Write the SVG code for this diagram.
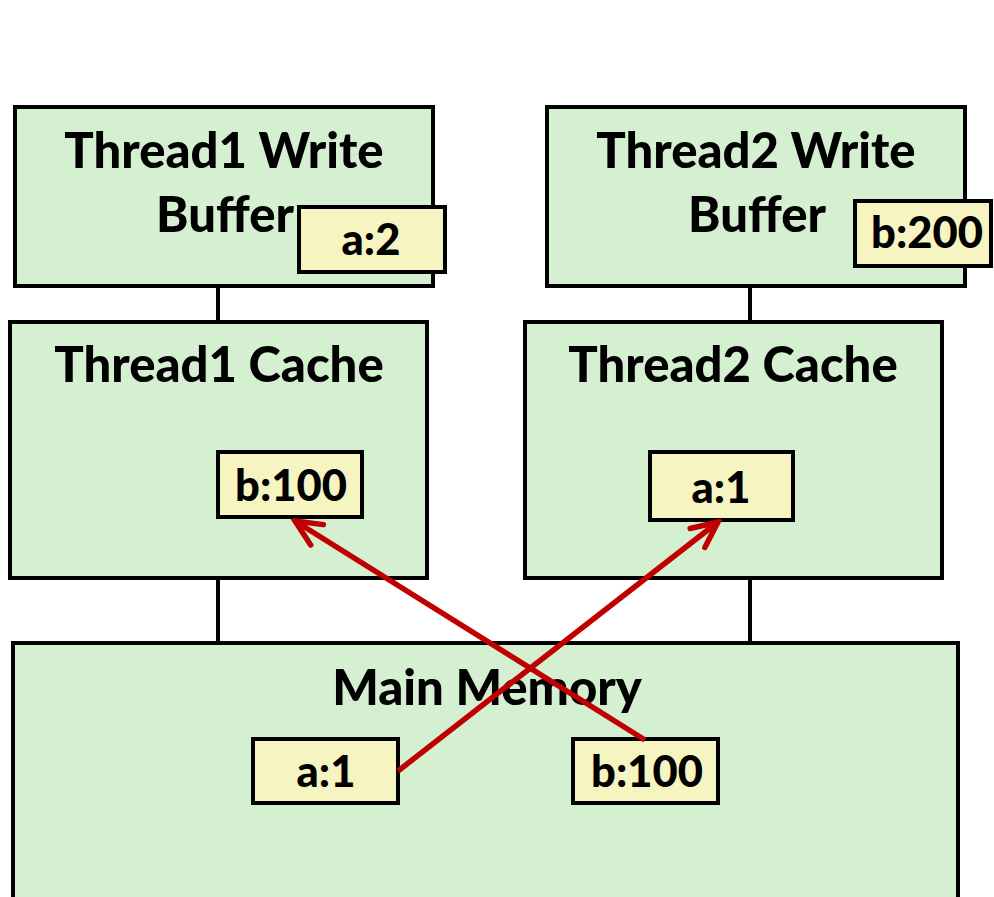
<svg xmlns="http://www.w3.org/2000/svg" width="994" height="897" viewBox="0 0 994 897">
<style>
.box{fill:#D5F0D0;stroke:#000;stroke-width:4}
.val{fill:#F6F5C1;stroke:#000;stroke-width:4}
.t{font-family:Lato,"Open Sans","Liberation Sans",sans-serif;font-weight:900;font-size:49px;fill:#000;text-anchor:middle}
.v{font-family:Lato,"Open Sans","Liberation Sans",sans-serif;font-weight:900;font-size:43.5px;fill:#000;text-anchor:middle}
.link{stroke:#000;stroke-width:4;fill:none}
.arrow{stroke:#C00000;stroke-width:5.5;fill:none}
</style>
<defs>
<marker id="ah" markerUnits="userSpaceOnUse" viewBox="-32 -16 36 32" refX="0" refY="0" markerWidth="36" markerHeight="32" orient="auto">
<path d="M -26 -12 L 0 0 L -26 12" fill="none" stroke="#C00000" stroke-width="5.5" stroke-linecap="round" stroke-linejoin="miter"/>
</marker>
</defs>
<rect width="994" height="897" fill="#fff"/>
<g id="connectors">
<line class="link" x1="218" y1="286" x2="218" y2="322"/>
<line class="link" x1="750" y1="286" x2="750" y2="322"/>
<line class="link" x1="218" y1="578" x2="218" y2="643"/>
<line class="link" x1="750" y1="578" x2="750" y2="643"/>
</g>
<g id="t1wb">
<rect class="box" x="15" y="107" width="418" height="179"/>
<text class="t" x="224" y="168">Thread1 Write</text>
<text class="t" x="225" y="232">Buffer</text>
<rect class="val" x="299" y="207" width="146" height="65"/>
<text class="v" x="371" y="255">a:2</text>
</g>
<g id="t2wb">
<rect class="box" x="547" y="107" width="418" height="179"/>
<text class="t" x="756" y="168">Thread2 Write</text>
<text class="t" x="757" y="232">Buffer</text>
<rect class="val" x="855" y="201" width="136" height="65"/>
<text class="v" x="927" y="248">b:200</text>
</g>
<g id="t1c">
<rect class="box" x="10" y="322" width="417" height="256"/>
<text class="t" x="219" y="382">Thread1 Cache</text>
<rect class="val" x="218" y="452" width="144" height="65"/>
<text class="v" x="291" y="501">b:100</text>
</g>
<g id="t2c">
<rect class="box" x="525" y="322" width="417" height="256"/>
<text class="t" x="733" y="382">Thread2 Cache</text>
<rect class="val" x="650" y="452" width="143" height="68"/>
<text class="v" x="721" y="503">a:1</text>
</g>
<g id="mem">
<rect class="box" x="13" y="643" width="945" height="270"/>
<text class="t" x="487" y="705">Main Memory</text>
<rect class="val" x="253" y="739" width="145" height="64"/>
<text class="v" x="326" y="787">a:1</text>
<rect class="val" x="573" y="739" width="145" height="64"/>
<text class="v" x="647" y="787">b:100</text>
</g>
<g id="arrows">
<line class="arrow" x1="398" y1="771" x2="718" y2="522" marker-end="url(#ah)"/>
<line class="arrow" x1="645" y1="740" x2="295" y2="521" marker-end="url(#ah)"/>
</g>
</svg>
